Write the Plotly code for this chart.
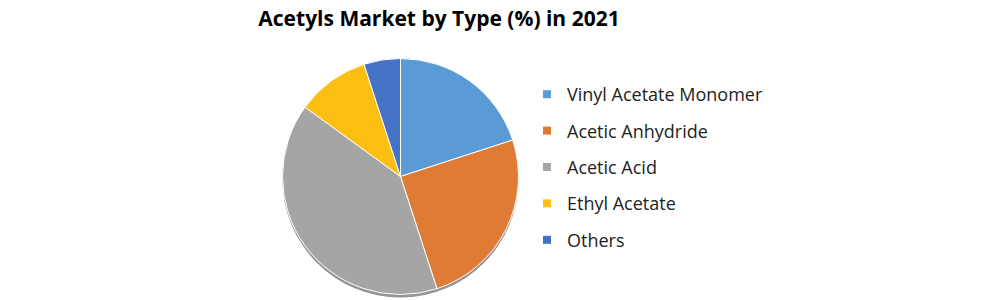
import plotly.graph_objects as go

categories = ["Vinyl Acetate Monomer", "Acetic Anhydride", "Acetic Acid", "Ethyl Acetate", "Others"]
values = [20, 25, 40, 10, 5]
colors = ["#5B9BD5", "#E07B35", "#A5A5A5", "#FBBF12", "#4472C4"]

W, H = 991, 300
cx, cy, r = 400.5, 176.5, 118
sh = 3  # shadow offset (px)

def dom(cx_, cy_, r_):
    return dict(x=[(cx_ - r_) / W, (cx_ + r_) / W], y=[1 - (cy_ + r_) / H, 1 - (cy_ - r_) / H])

fig = go.Figure()
# soft shadow
fig.add_trace(go.Pie(labels=["shadow"], values=[1], domain=dom(cx, cy + sh, r),
                     marker=dict(colors=["rgba(60,60,60,0.55)"], line=dict(width=0)),
                     textinfo="none", hoverinfo="skip", showlegend=False, sort=False))
fig.add_trace(go.Pie(labels=categories, values=values, domain=dom(cx, cy, r),
                     marker=dict(colors=colors, line=dict(color="white", width=1)),
                     textinfo="none", sort=False, direction="clockwise", rotation=0,
                     showlegend=False))
for i, (c, col) in enumerate(zip(categories, colors)):
    fig.add_trace(go.Scatter(x=[None], y=[None], mode="markers", name=c,
                             marker=dict(symbol="square", size=8, color=col),
                             legendgroup=f"g{i}", showlegend=True))

fig.update_layout(
    width=W, height=H, margin=dict(l=0, r=0, t=0, b=0),
    paper_bgcolor="white", plot_bgcolor="white",
    title=dict(text="<b>Acetyls Market by Type (%) in 2021</b>", x=439 / W, xanchor="center",
               y=1 - 19 / H, yanchor="middle",
               font=dict(family="Open Sans", size=21, color="black")),
    xaxis=dict(visible=False), yaxis=dict(visible=False),
    legend=dict(x=527 / W, xanchor="left", y=1 - 76 / H, yanchor="top",
                font=dict(family="Open Sans", size=18, color="#222222"),
                tracegroupgap=10, bgcolor="rgba(0,0,0,0)"),
)
fig.write_html("out.html")
